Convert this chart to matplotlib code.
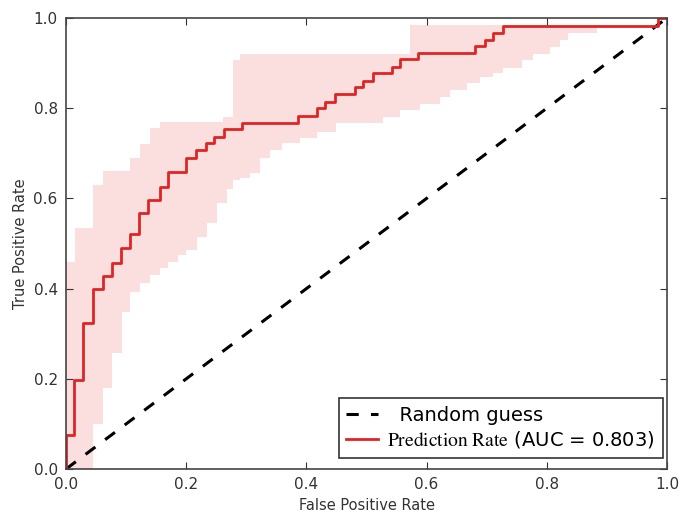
import numpy as np
import matplotlib
matplotlib.use("Agg")
import matplotlib.pyplot as plt

# ROC curve (step points)
fpr = [0.0, 0.0, 0.013, 0.028, 0.045, 0.062, 0.077, 0.092, 0.107, 0.121, 0.136,
       0.156, 0.17, 0.2, 0.216, 0.233, 0.246, 0.263, 0.293, 0.386, 0.418, 0.431,
       0.448, 0.481, 0.494, 0.511, 0.542, 0.556, 0.586, 0.681, 0.697, 0.71,
       0.727, 0.985, 1.0]
tpr = [0.0, 0.075, 0.197, 0.324, 0.40, 0.428, 0.457, 0.49, 0.521, 0.568, 0.597,
       0.625, 0.659, 0.69, 0.707, 0.723, 0.736, 0.754, 0.767, 0.783, 0.80, 0.814,
       0.831, 0.847, 0.86, 0.878, 0.891, 0.909, 0.923, 0.938, 0.951, 0.967,
       0.982, 1.0, 1.0]

# confidence band, upper and lower step edges
band_x = [0.0, 0.015, 0.028, 0.045, 0.062, 0.077, 0.093, 0.107, 0.123, 0.14,
          0.156, 0.17, 0.186, 0.2, 0.218, 0.235, 0.251, 0.262, 0.268, 0.278,
          0.29, 0.306, 0.323, 0.339, 0.359, 0.389, 0.418, 0.45, 0.527, 0.556,
          0.572, 0.589, 0.622, 0.639, 0.667, 0.689, 0.71, 0.727, 0.759, 0.777,
          0.805, 0.822, 0.835, 0.884, 0.9, 1.0]
band_hi = [0.46, 0.535, 0.535, 0.63, 0.66, 0.66, 0.66, 0.69, 0.72, 0.755,
           0.77, 0.77, 0.77, 0.77, 0.77, 0.77, 0.77, 0.78, 0.78, 0.907,
           0.92, 0.92, 0.92, 0.92, 0.92, 0.92, 0.92, 0.92, 0.92, 0.92,
           0.984, 0.984, 0.984, 0.984, 0.984, 0.984, 0.984, 0.984, 0.984, 0.984,
           0.984, 0.984, 0.984, 0.984, 0.984, 0.984]
band_lo = [0.0, 0.0, 0.0, 0.10, 0.18, 0.257, 0.348, 0.392, 0.412, 0.43,
           0.445, 0.46, 0.474, 0.486, 0.514, 0.545, 0.59, 0.59, 0.62, 0.64,
           0.645, 0.656, 0.69, 0.707, 0.723, 0.734, 0.747, 0.767, 0.78, 0.796,
           0.796, 0.81, 0.825, 0.84, 0.856, 0.87, 0.878, 0.89, 0.907, 0.92,
           0.936, 0.951, 0.967, 0.978, 0.984, 0.984]

auc = 0.803

plt.rcParams["mathtext.fontset"] = "stix"

fig = plt.figure(figsize=(6.85, 5.14), dpi=100)
ax = fig.add_axes([0.0964, 0.0875, 0.8773, 0.8775])

ax.fill_between(band_x, band_lo, band_hi, step="post",
                color="#fbdede", linewidth=0)
ax.plot([0, 1], [0, 1], "k--", lw=2.2, dashes=(4, 4), label="  Random guess")
ax.step(fpr, tpr, where="post", color="#e02424", lw=2,
        label=r"$\mathrm{Prediction\ Rate}$ (AUC = %.3f)" % auc)

ax.set_xlim(0, 1)
ax.set_ylim(0, 1)
ax.set_xticks(np.arange(0, 1.01, 0.2))
ax.set_yticks(np.arange(0, 1.01, 0.2))
ax.tick_params(direction="in", top=True, right=True, length=5,
               labelsize=11, colors="#333333", pad=6)
for s in ax.spines.values():
    s.set_color("#444444")
    s.set_linewidth(1.2)
ax.set_xlabel("False Positive Rate", fontsize=10.5, color="#333333")
ax.set_ylabel("True Positive Rate", fontsize=10.5, color="#333333")

leg = ax.legend(loc="lower right", bbox_to_anchor=(0.993, 0.024),
                borderaxespad=0, fontsize=14, fancybox=False,
                framealpha=1, edgecolor="#333333", handlelength=1.6,
                handletextpad=0.5, labelspacing=0.25, borderpad=0.4)
leg.get_frame().set_linewidth(1.2)

fig.savefig("out.png", dpi=100)
